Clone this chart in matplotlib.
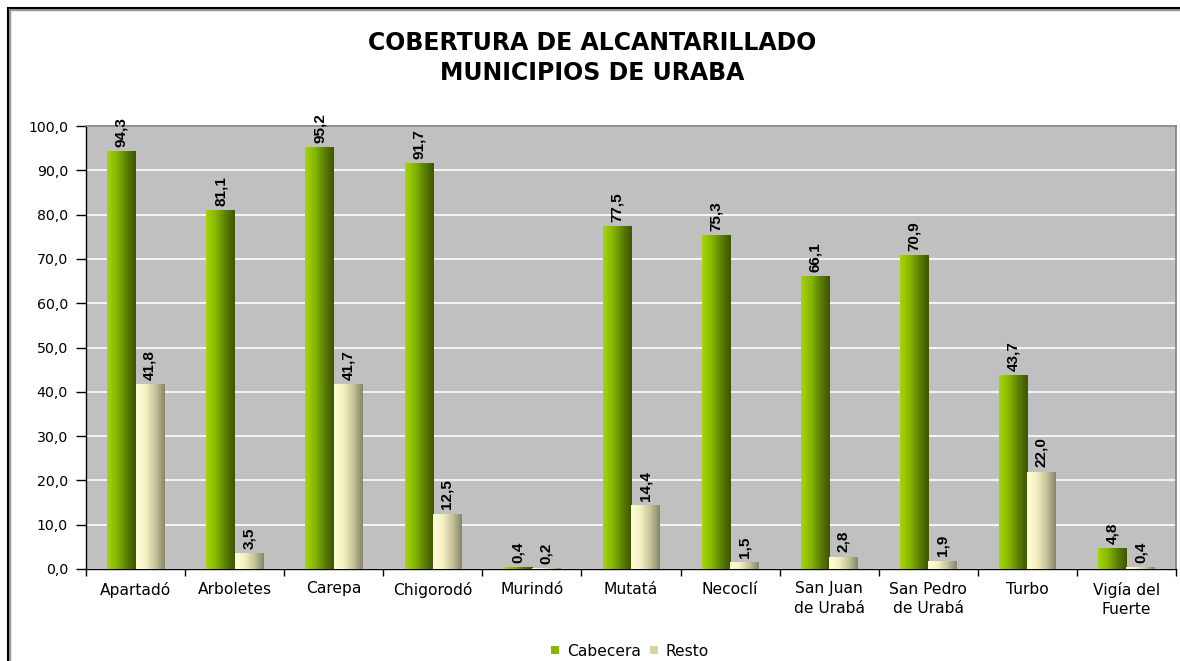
import numpy as np
import matplotlib
matplotlib.use("Agg")
import matplotlib.pyplot as plt
from matplotlib.colors import LinearSegmentedColormap
from matplotlib.patches import Rectangle, Patch

categories = ["Apartadó", "Arboletes", "Carepa", "Chigorodó", "Murindó", "Mutatá",
              "Necoclí", "San Juan\nde Urabá", "San Pedro\nde Urabá", "Turbo", "Vigía del\nFuerte"]
cabecera = [94.3, 81.1, 95.2, 91.7, 0.4, 77.5, 75.3, 66.1, 70.9, 43.7, 4.8]
resto = [41.8, 3.5, 41.7, 12.5, 0.2, 14.4, 1.5, 2.8, 1.9, 22.0, 0.4]
series_names = ["Cabecera", "Resto"]
yticks = [0, 10, 20, 30, 40, 50, 60, 70, 80, 90, 100]

plt.rcParams['font.family'] = ['DejaVu Sans']

fig = plt.figure(figsize=(11.8, 6.61), dpi=100)
W, H = 1180, 661
ax = fig.add_axes([86 / W, 1 - 569 / H, (1176 - 86) / W, (569 - 126) / H])
ax.set_facecolor("#c0c0c0")

cmap_green = LinearSegmentedColormap.from_list("g", ["#a6d40a", "#86b800", "#5d8000", "#3d5600"])
cmap_cream = LinearSegmentedColormap.from_list("c", ["#ffffd8", "#f4f0c0", "#c8c49a", "#86866a"])

x = np.arange(len(categories))
bw = 0.285
grad = np.linspace(0, 1, 64).reshape(1, -1)

def grad_bars(xpos, vals, cmap, face):
    bars = ax.bar(xpos, vals, width=bw, color=face, edgecolor="none", zorder=3)
    for b in bars:
        x0, y0 = b.get_x(), b.get_y()
        w, h = b.get_width(), b.get_height()
        im = ax.imshow(grad, cmap=cmap, aspect="auto", extent=(x0, x0 + w, y0, y0 + h),
                       zorder=3.5, interpolation="bilinear")
        im.set_clip_path(b)
    return bars

grad_bars(x - bw / 2, cabecera, cmap_green, "#86b800")
grad_bars(x + bw / 2, resto, cmap_cream, "#e8e4b4")

for xs, vals in ((x - bw / 2, cabecera), (x + bw / 2, resto)):
    for xi, v in zip(xs, vals):
        ax.annotate(f"{v:.1f}".replace(".", ","), (xi, v), xytext=(0, 3),
                    textcoords="offset points", rotation=90, ha="center", va="bottom",
                    fontsize=11, fontweight="bold", family="Liberation Sans", zorder=5)

ax.set_xlim(-0.5, len(categories) - 0.5)
ax.set_ylim(0, 100)
ax.set_yticks(yticks)
ax.set_yticklabels([f"{t:.1f}".replace(".", ",") for t in yticks], fontsize=10.2)
ax.yaxis.grid(True, color="white", linewidth=1.2, zorder=1)
ax.set_axisbelow(True)

ax.set_xticks(np.arange(len(categories) + 1) - 0.5)
ax.set_xticklabels([])
ax.set_xticks(x, minor=True)
ax.set_xticklabels(categories, minor=True, fontsize=11.2, linespacing=1.35)
ax.tick_params(axis="x", which="minor", length=0, pad=9)
ax.tick_params(axis="x", which="major", length=5, width=1, direction="out")
ax.tick_params(axis="y", length=7, width=1, direction="out", pad=6)

for s in ("top", "right"):
    ax.spines[s].set_color("#808080")
    ax.spines[s].set_linewidth(1.2)
for s in ("left", "bottom"):
    ax.spines[s].set_color("black")
    ax.spines[s].set_linewidth(1)

fig.text(592 / W, 1 - 43 / H, "COBERTURA DE ALCANTARILLADO", ha="center", va="center",
         fontsize=17, fontweight="bold")
fig.text(592 / W, 1 - 73 / H, "MUNICIPIOS DE URABA", ha="center", va="center",
         fontsize=17, fontweight="bold")

handles = [Patch(facecolor="#86b800", edgecolor="none"), Patch(facecolor="#d8d4a8", edgecolor="none")]
fig.legend(handles, series_names, loc="center", bbox_to_anchor=(630 / W, 1 - 651 / H), ncol=2,
           frameon=False, fontsize=11.2, handlelength=0.5, handleheight=0.5, handletextpad=0.5,
           columnspacing=0.6, borderpad=0)

# outer chart border
fig.add_artist(Rectangle((9 / W, -0.1), 1.1, 1.1 - 9 / H, transform=fig.transFigure,
                         fill=False, edgecolor="#999999", linewidth=2.5))
fig.add_artist(Rectangle((7.5 / W, -0.1), 1.1, 1.1 - 7.5 / H, transform=fig.transFigure,
                         fill=False, edgecolor="black", linewidth=1.5))

fig.savefig("out.png", dpi=100)
